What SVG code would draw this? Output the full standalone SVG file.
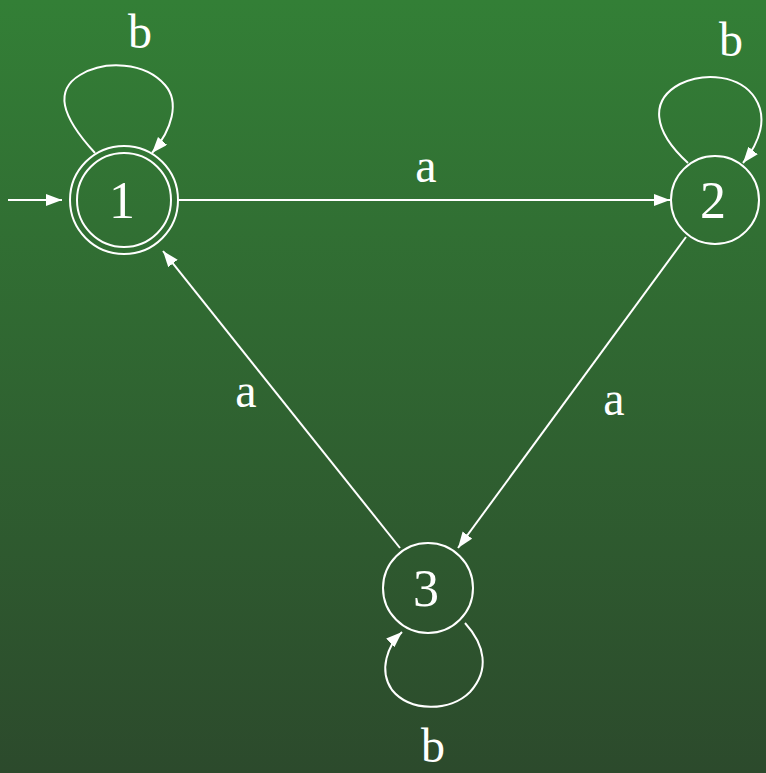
<svg xmlns="http://www.w3.org/2000/svg" width="766" height="773" viewBox="0 0 766 773">
<defs>
<linearGradient id="bg" x1="0" y1="0" x2="0" y2="1">
<stop offset="0" stop-color="#337f36"/>
<stop offset="1" stop-color="#2c4a2c"/>
</linearGradient>
<marker id="arr" markerUnits="userSpaceOnUse" markerWidth="18" markerHeight="14" refX="16" refY="6" orient="auto">
<path d="M0,0 L16,6 L0,12 z" fill="#ffffff"/>
</marker>
<style>
.st{fill:none;stroke:#ffffff;stroke-width:2}
.lbl{font-family:"Liberation Serif","Times New Roman",serif;fill:#ffffff;text-anchor:middle}
.nl{font-size:52px}
.el{font-size:48px}
</style>
</defs>
<rect width="766" height="773" fill="url(#bg)"/>
<g id="connectors">
<path class="st" d="M8,200 L62,200" marker-end="url(#arr)"/>
<path class="st" d="M179,200 L670,200" marker-end="url(#arr)"/>
<path class="st" d="M686,237 L458,548" marker-end="url(#arr)"/>
<path class="st" d="M400,548 L163,251" marker-end="url(#arr)"/>
<path class="st" d="M95,153 C60,115 55,90 80,75 C105,60 145,62 165,85 C180,102 172,130 152,153" marker-end="url(#arr)"/>
<path class="st" d="M688,163 C652,130 650,100 680,84 C705,72 740,75 755,98 C768,118 760,142 743,163" marker-end="url(#arr)"/>
<path class="st" d="M465,623 C485,645 490,670 470,692 C450,712 410,712 392,690 C378,670 388,645 402,632" marker-end="url(#arr)"/>
<text class="lbl el" x="426" y="182">a</text>
<text class="lbl el" x="614" y="415">a</text>
<text class="lbl el" x="246" y="407">a</text>
<text class="lbl el" x="140" y="48">b</text>
<text class="lbl el" x="731" y="56">b</text>
<text class="lbl el" x="433" y="762">b</text>
</g>
<g id="node1">
<circle class="st" cx="124" cy="200" r="54"/>
<circle class="st" cx="124" cy="200" r="47"/>
<text class="lbl nl" x="122" y="218">1</text>
</g>
<g id="node2">
<circle class="st" cx="715" cy="200" r="44"/>
<text class="lbl nl" x="713" y="218">2</text>
</g>
<g id="node3">
<circle class="st" cx="428" cy="588" r="45"/>
<text class="lbl nl" x="426" y="606">3</text>
</g>
</svg>
